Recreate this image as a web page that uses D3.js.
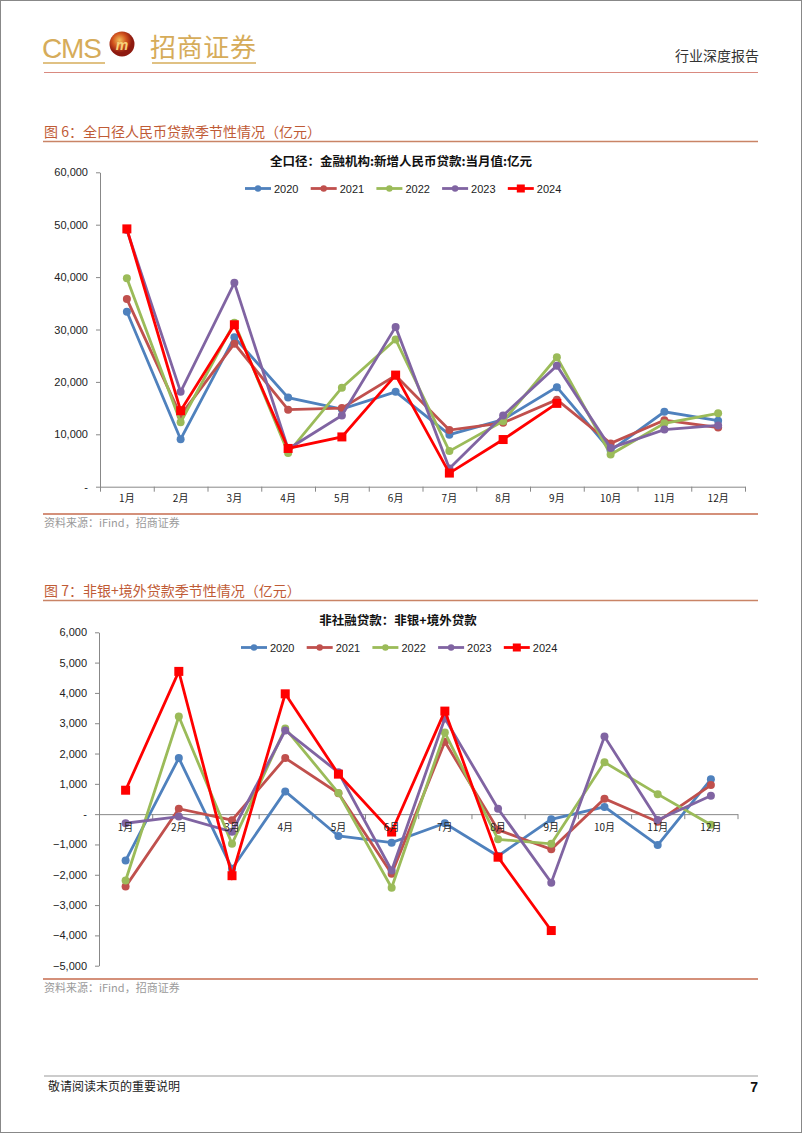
<!DOCTYPE html>
<html><head><meta charset="utf-8">
<script src="https://cdn.jsdelivr.net/npm/d3@7"></script>
<style>
body{margin:0;background:#fff;}
svg{display:block;}
text{font-family:"Liberation Sans",Arial,sans-serif;}
.cjk{font-family:"Noto Sans CJK SC","Noto Sans",sans-serif;}
</style></head>
<body>
<svg id="page" width="802" height="1133"></svg>
<script>
// ---------- data ----------
const months = ["1月","2月","3月","4月","5月","6月","7月","8月","9月","10月","11月","12月"];
const years = ["2020","2021","2022","2023","2024"];
const colors = ["#4F81BD","#C0504D","#9BBB59","#8064A2","#FF0000"];

// Chart 1: 新增人民币贷款 当月值（亿元）
const loans2020 = [33400, 9057, 28500, 17000, 14800, 18100, 9927, 12800, 19000, 6898, 14300, 12600];
const loans2021 = [35800, 13600, 27300, 14700, 15000, 21200, 10800, 12200, 16600, 8262, 12700, 11300];
const loans2022 = [39800, 12300, 31300, 6454, 18900, 28100, 6790, 12500, 24700, 6152, 12100, 14000];
const loans2023 = [49000, 18100, 38900, 7188, 13600, 30500, 3459, 13600, 23100, 7384, 10900, 11700];
const loans2024 = [49200, 14500, 30900, 7300, 9500, 21300, 2600, 9000, 15900];
const loanTicks = [0, 10000, 20000, 30000, 40000, 50000, 60000];

// Chart 2: 非银+境外贷款（亿元）
const nb2020 = [-1530, 1850, -1800, 750, -720, -940, -300, -1380, -170, 240, -1020, 1150];
const nb2021 = [-2390, 180, -200, 1850, 690, -1970, 2390, -520, -1160, 510, -250, 960];
const nb2022 = [-2190, 3220, -980, 2830, 700, -2430, 2690, -830, -980, 1710, 660, -350];
const nb2023 = [-300, -80, -580, 2760, 1380, -1860, 3160, 180, -2260, 2560, -190, 610];
const nb2024 = [790, 4710, -2030, 3970, 1320, -590, 3400, -1420, -3840];
const nbTicks = [-5000,-4000,-3000,-2000,-1000,0,1000,2000,3000,4000,5000,6000];

const loanSeries = [loans2020, loans2021, loans2022, loans2023, loans2024];
const nbSeries = [nb2020, nb2021, nb2022, nb2023, nb2024];

const svg = d3.select("#page");

// ---------- page frame / header / footer ----------
svg.append("rect").attr("x",0.5).attr("y",0.5).attr("width",801).attr("height",1132)
  .attr("fill","none").attr("stroke","#888").attr("stroke-width",1);

const gold = "#D6AC5A";
svg.append("text").attr("x",42).attr("y",58).attr("fill",gold)
  .attr("font-size",28).attr("font-family","'Liberation Sans Narrow','Liberation Sans',sans-serif")
  .attr("textLength",60).text("CMS");
const grad = svg.append("defs").append("radialGradient").attr("id","lg").attr("cx","40%").attr("cy","35%");
grad.append("stop").attr("offset","0%").attr("stop-color","#F2C15A");
grad.append("stop").attr("offset","55%").attr("stop-color","#D2541E");
grad.append("stop").attr("offset","100%").attr("stop-color","#8E1A10");
svg.append("circle").attr("cx",122).attr("cy",44).attr("r",12.5).attr("fill","url(#lg)");
svg.append("text").attr("x",122).attr("y",50).attr("text-anchor","middle").attr("fill","#F7D27A")
  .attr("font-size",14).attr("font-weight","bold").attr("font-style","italic").text("m");
svg.append("text").attr("class","cjk").attr("x",150).attr("y",57).attr("fill",gold)
  .attr("font-size",26).attr("textLength",106).text("招商证券");
svg.append("line").attr("x1",43).attr("x2",105).attr("y1",63).attr("y2",63).attr("stroke",gold).attr("stroke-width",1.5);
svg.append("line").attr("x1",152).attr("x2",256).attr("y1",63).attr("y2",63).attr("stroke",gold).attr("stroke-width",1.5);
svg.append("text").attr("class","cjk").attr("x",759).attr("y",61).attr("text-anchor","end")
  .attr("fill","#333").attr("font-size",14).text("行业深度报告");
svg.append("line").attr("x1",44).attr("x2",758).attr("y1",72.5).attr("y2",72.5).attr("stroke","#D98A80").attr("stroke-width",1.2);

svg.append("line").attr("x1",44).attr("x2",758).attr("y1",1076).attr("y2",1076).attr("stroke","#999").attr("stroke-width",1);
svg.append("text").attr("class","cjk").attr("x",48).attr("y",1091).attr("fill","#222").attr("font-size",12).text("敬请阅读末页的重要说明");
svg.append("text").attr("x",758).attr("y",1092).attr("text-anchor","end").attr("fill","#111")
  .attr("font-size",14).attr("font-weight","bold").text("7");

// ---------- chart drawer ----------
function drawChart(cfg){
  const g = svg.append("g");
  // figure title + line
  g.append("text").attr("class","cjk").attr("x",44).attr("y",cfg.figY+5).attr("fill","#BF5B36")
    .attr("font-size",14).text(cfg.figTitle);
  g.append("line").attr("x1",43).attr("x2",758).attr("y1",cfg.figY+9.5).attr("y2",cfg.figY+9.5)
    .attr("stroke","#C98466").attr("stroke-width",1.3);
  // chart title
  g.append("text").attr("class","cjk").attr("x",cfg.titleX).attr("y",cfg.titleY+4.5).attr("text-anchor","middle")
    .attr("font-size",12.5).attr("font-weight","bold").attr("fill","#111").text(cfg.title);

  const x = d3.scaleBand().domain(months).range([cfg.x0, cfg.x1]).paddingInner(0).paddingOuter(0);
  const xl = d3.scaleLinear().domain([0,12]).range([cfg.x0, cfg.x1]);
  const y = d3.scaleLinear().domain(cfg.yDomain).range([cfg.yBottom, cfg.yTop]);
  const cx = m => x(m) + x.bandwidth()/2;

  // y axis
  const ya = g.append("g").attr("transform",`translate(${cfg.x0},0)`)
    .call(d3.axisLeft(y).tickValues(cfg.ticks).tickSizeInner(4).tickSizeOuter(0).tickPadding(8)
      .tickFormat(d => d===0 ? "-" : d3.format(",")(d)));
  ya.select(".domain").attr("stroke","#888");
  ya.selectAll(".tick line").attr("stroke","#888");
  ya.selectAll("text").attr("font-size",11).attr("fill","#222").attr("font-family","'Liberation Sans',Arial,sans-serif");

  // x axis (boundary ticks)
  const zeroY = y(0);
  const xa = g.append("g").attr("transform",`translate(0,${zeroY})`)
    .call(d3.axisBottom(xl).tickValues(d3.range(0,13)).tickSizeInner(5).tickSizeOuter(0).tickFormat(""));
  xa.select(".domain").attr("stroke","#888");
  xa.selectAll(".tick line").attr("stroke","#888");

  // series
  const line = d3.line().x((d,i)=>cx(months[i])).y(d=>y(d));
  cfg.series.forEach((s,k)=>{
    const sg = g.append("g");
    sg.append("path").datum(s).attr("d",line).attr("fill","none").attr("stroke",colors[k])
      .attr("stroke-width",2.8).attr("stroke-linejoin","miter");
    if(k===4){
      sg.selectAll("rect").data(s).join("rect")
        .attr("x",(d,i)=>cx(months[i])-4.5).attr("y",d=>y(d)-4.5).attr("width",9).attr("height",9)
        .attr("fill",colors[k]);
    } else {
      sg.selectAll("circle").data(s).join("circle")
        .attr("cx",(d,i)=>cx(months[i])).attr("cy",d=>y(d)).attr("r",4).attr("fill",colors[k]);
    }
  });

  // x labels (drawn over the lines)
  const xlab = g.append("g").attr("transform",`translate(0,${cfg.labelY})`)
    .call(d3.axisBottom(x).tickSize(0).tickPadding(0));
  xlab.select(".domain").remove();
  xlab.selectAll("text").attr("class","cjk").attr("font-size",10).attr("fill","#222");

  // legend
  const lg = g.append("g").attr("transform",`translate(${cfg.legX},${cfg.legY})`);
  years.forEach((yr,k)=>{
    const it = lg.append("g").attr("transform",`translate(${k*cfg.legStep},0)`);
    it.append("line").attr("x1",0).attr("x2",26).attr("y1",0).attr("y2",0).attr("stroke",colors[k]).attr("stroke-width",2.8);
    if(k===4) it.append("rect").attr("x",9).attr("y",-4).attr("width",8).attr("height",8).attr("fill",colors[k]);
    else it.append("circle").attr("cx",13).attr("cy",0).attr("r",3.2).attr("fill",colors[k]);
    it.append("text").attr("x",29).attr("y",4).attr("font-size",11).attr("fill","#222").text(yr);
  });

  // bottom rule + source
  g.append("line").attr("x1",43).attr("x2",758).attr("y1",cfg.ruleY).attr("y2",cfg.ruleY)
    .attr("stroke","#D4907A").attr("stroke-width",2.2);
  g.append("text").attr("class","cjk").attr("x",44).attr("y",cfg.ruleY+13).attr("fill","#9a9a9a")
    .attr("font-size",11).text("资料来源：iFind，招商证券");
}

drawChart({
  figY:132, figTitle:"图 6：全口径人民币贷款季节性情况（亿元）",
  titleX:401, titleY:161, title:"全口径：金融机构:新增人民币贷款:当月值:亿元",
  x0:100, x1:745, yTop:172.3, yBottom:486.7, yDomain:[0,60000], ticks:loanTicks,
  labelY:495, series:loanSeries,
  legX:245, legY:188.5, legStep:65.7, ruleY:514
});

drawChart({
  figY:591, figTitle:"图 7：非银+境外贷款季节性情况（亿元）",
  titleX:398, titleY:620, title:"非社融贷款：非银+境外贷款",
  x0:99, x1:737.5, yTop:632.3, yBottom:965.7, yDomain:[-5000,6000], ticks:nbTicks,
  labelY:824, series:nbSeries,
  legX:241, legY:647.5, legStep:65.7, ruleY:979
});
</script>
</body></html>
